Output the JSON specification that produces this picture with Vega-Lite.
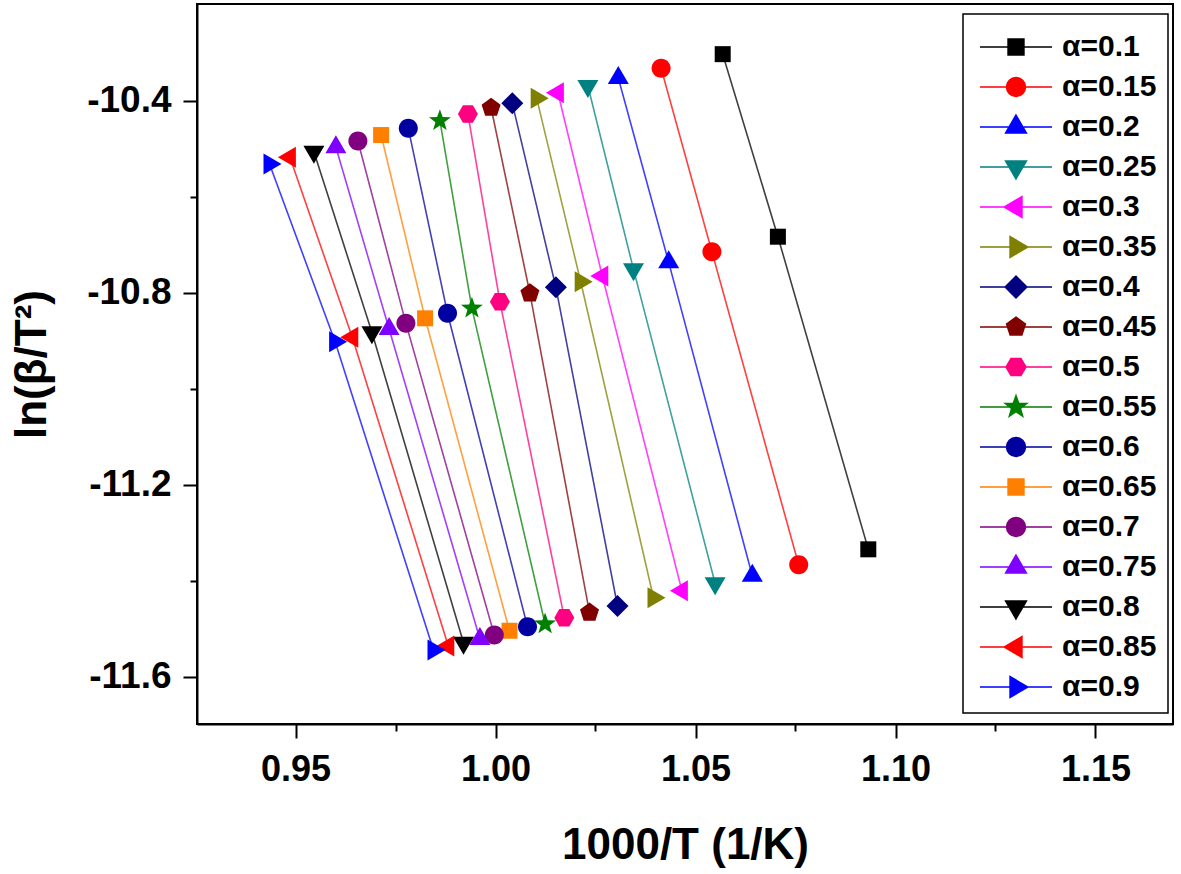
{
  "$schema": "https://vega.github.io/schema/vega-lite/v6.json",
  "width": 976,
  "height": 720,
  "autosize": "none",
  "padding": {"left": 197, "top": 4, "right": 8, "bottom": 150},
  "background": "white",
  "config": {
    "view": {"stroke": "black", "strokeWidth": 2},
    "font": "Liberation Sans"
  },
  "data": {
    "values": [
      {"a": "α=0.1", "x": 1.0568, "y": -10.3030}, {"a": "α=0.1", "x": 1.0706, "y": -10.6833}, {"a": "α=0.1", "x": 1.0932, "y": -11.3346},
      {"a": "α=0.15", "x": 1.0414, "y": -10.3325}, {"a": "α=0.15", "x": 1.0541, "y": -10.7146}, {"a": "α=0.15", "x": 1.0758, "y": -11.3667},
      {"a": "α=0.2", "x": 1.0307, "y": -10.3527}, {"a": "α=0.2", "x": 1.0433, "y": -10.7367}, {"a": "α=0.2", "x": 1.0642, "y": -11.3896},
      {"a": "α=0.25", "x": 1.0231, "y": -10.3694}, {"a": "α=0.25", "x": 1.0345, "y": -10.7513}, {"a": "α=0.25", "x": 1.0549, "y": -11.4054},
      {"a": "α=0.3", "x": 1.0156, "y": -10.3833}, {"a": "α=0.3", "x": 1.0267, "y": -10.7652}, {"a": "α=0.3", "x": 1.0466, "y": -11.4208},
      {"a": "α=0.35", "x": 1.0103, "y": -10.3950}, {"a": "α=0.35", "x": 1.0213, "y": -10.7771}, {"a": "α=0.35", "x": 1.0395, "y": -11.4354},
      {"a": "α=0.4", "x": 1.0042, "y": -10.4054}, {"a": "α=0.4", "x": 1.0151, "y": -10.7888}, {"a": "α=0.4", "x": 1.0305, "y": -11.4527},
      {"a": "α=0.45", "x": 0.9989, "y": -10.4146}, {"a": "α=0.45", "x": 1.0086, "y": -10.8013}, {"a": "α=0.45", "x": 1.0235, "y": -11.4663},
      {"a": "α=0.5", "x": 0.9931, "y": -10.4277}, {"a": "α=0.5", "x": 1.0011, "y": -10.8188}, {"a": "α=0.5", "x": 1.0172, "y": -11.4771},
      {"a": "α=0.55", "x": 0.9861, "y": -10.4417}, {"a": "α=0.55", "x": 0.9941, "y": -10.8325}, {"a": "α=0.55", "x": 1.0124, "y": -11.4902},
      {"a": "α=0.6", "x": 0.9782, "y": -10.4575}, {"a": "α=0.6", "x": 0.9880, "y": -10.8429}, {"a": "α=0.6", "x": 1.0080, "y": -11.4958},
      {"a": "α=0.65", "x": 0.9714, "y": -10.4715}, {"a": "α=0.65", "x": 0.9824, "y": -10.8533}, {"a": "α=0.65", "x": 1.0035, "y": -11.5042},
      {"a": "α=0.7", "x": 0.9656, "y": -10.4840}, {"a": "α=0.7", "x": 0.9776, "y": -10.8638}, {"a": "α=0.7", "x": 0.9997, "y": -11.5131},
      {"a": "α=0.75", "x": 0.9601, "y": -10.4969}, {"a": "α=0.75", "x": 0.9734, "y": -10.8754}, {"a": "α=0.75", "x": 0.9961, "y": -11.5215},
      {"a": "α=0.8", "x": 0.9546, "y": -10.5063}, {"a": "α=0.8", "x": 0.9691, "y": -10.8825}, {"a": "α=0.8", "x": 0.9920, "y": -11.5292},
      {"a": "α=0.85", "x": 0.9486, "y": -10.5179}, {"a": "α=0.85", "x": 0.9642, "y": -10.8929}, {"a": "α=0.85", "x": 0.9882, "y": -11.5360},
      {"a": "α=0.9", "x": 0.9435, "y": -10.5319}, {"a": "α=0.9", "x": 0.9599, "y": -10.9021}, {"a": "α=0.9", "x": 0.9845, "y": -11.5444}
    ]
  },
  "encoding": {
    "x": {
      "field": "x", "type": "quantitative",
      "scale": {"domain": [0.925375, 1.169375], "nice": false, "zero": false},
      "axis": {
        "values": [0.95, 0.975, 1.0, 1.025, 1.05, 1.075, 1.1, 1.125, 1.15],
        "labelExpr": "abs(datum.value*20 - round(datum.value*20)) < 0.001 ? format(datum.value, '.2f') : ''",
        "tickSize": {"condition": {"test": "abs(datum.value*20 - round(datum.value*20)) < 0.001", "value": 14}, "value": 7},
        "tickColor": "black", "tickWidth": 2,
        "domainColor": "black", "domainWidth": 2,
        "grid": false,
        "labelFont": "Liberation Sans", "labelFontSize": 36, "labelFontWeight": "bold", "labelColor": "black",
        "labelPadding": 14, "labelOverlap": false, "labelBound": false, "labelFlush": false,
        "title": "1000/T (1/K)",
        "titleFont": "Liberation Sans", "titleFontSize": 44, "titleFontWeight": "bold", "titleColor": "black",
        "titlePadding": 36
      }
    },
    "y": {
      "field": "y", "type": "quantitative",
      "scale": {"domain": [-11.6985, -10.1985], "nice": false, "zero": false},
      "axis": {
        "values": [-10.4, -10.6, -10.8, -11.0, -11.2, -11.4, -11.6],
        "labelExpr": "abs(datum.value*2.5 - round(datum.value*2.5)) < 0.001 ? '-' + format(-datum.value, '.1f') : ''",
        "tickSize": {"condition": {"test": "abs(datum.value*2.5 - round(datum.value*2.5)) < 0.001", "value": 14}, "value": 7},
        "tickColor": "black", "tickWidth": 2,
        "domainColor": "black", "domainWidth": 2,
        "grid": false,
        "labelFont": "Liberation Sans", "labelFontSize": 37, "labelFontWeight": "bold", "labelColor": "black",
        "labelPadding": 12, "labelOverlap": false, "labelBound": false, "labelFlush": false,
        "title": "ln(β/T²)",
        "titleFont": "Liberation Sans", "titleFontSize": 44, "titleFontWeight": "bold", "titleColor": "black",
        "titlePadding": 32
      }
    }
  },
  "layer": [
    {
      "mark": {"type": "line", "strokeWidth": 1.6, "opacity": 0.75},
      "encoding": {
        "stroke": {
          "field": "a", "type": "nominal", "legend": null,
          "scale": {
            "range": ["#000000","#FF0000","#0000FF","#008080","#FF00FF","#808000","#000080","#800000","#FF0080","#008000","#0000A0","#FF8000","#800080","#8000FF","#000000","#FF0000","#0000FF"]
          }
        }
      }
    },
    {
      "mark": {"type": "point", "filled": true, "size": 400, "opacity": 1},
      "encoding": {
        "color": {
          "field": "a", "type": "nominal",
          "scale": {
            "domain": ["α=0.1","α=0.15","α=0.2","α=0.25","α=0.3","α=0.35","α=0.4","α=0.45","α=0.5","α=0.55","α=0.6","α=0.65","α=0.7","α=0.75","α=0.8","α=0.85","α=0.9"],
            "range": ["#000000","#FF0000","#0000FF","#008080","#FF00FF","#808000","#000080","#800000","#FF0080","#008000","#0000A0","#FF8000","#800080","#8000FF","#000000","#FF0000","#0000FF"]
          },
          "legend": {
            "title": " ", "titleFontSize": 7, "titlePadding": 0,
            "orient": "none", "legendX": 766, "legendY": 10,
            "padding": 11, "strokeColor": "black", "fillColor": "white",
            "symbolSize": 400, "rowPadding": 10, "labelOffset": 31, "symbolOffset": 27,
            "labelFont": "Liberation Sans", "labelFontSize": 30, "labelFontWeight": "bold", "labelColor": "black", "labelLimit": 0,
            "symbolOpacity": 1,
            "encode": {
              "legend": {"update": {"strokeWidth": {"value": 1.5}}},
              "symbols": {"update": {
                "shape": {"signal": "scale('shape', datum.value) + 'M-3.6,0L3.6,0'"},
                "stroke": {"signal": "scale('color', datum.value)"},
                "strokeWidth": {"value": 1.4}
              }}
            }
          }
        },
        "shape": {
          "field": "a", "type": "nominal", "legend": null,
          "scale": {
            "range": [
              "M-0.8,-0.8L0.8,-0.8L0.8,0.8L-0.8,0.8Z",
              "M0.95,0A0.95,0.95,0,1,1,-0.95,0A0.95,0.95,0,1,1,0.95,0Z",
              "M0,-1.2L1.05,0.6L-1.05,0.6Z",
              "M0,1.2L1.05,-0.6L-1.05,-0.6Z",
              "M-1.2,0L0.6,-1.05L0.6,1.05Z",
              "M1.2,0L-0.6,-1.05L-0.6,1.05Z",
              "M0,-1.1L1.1,0L0,1.1L-1.1,0Z",
              "M0,-1L0.951,-0.309L0.588,0.809L-0.588,0.809L-0.951,-0.309Z",
              "M1,0L0.5,0.866L-0.5,0.866L-1,0L-0.5,-0.866L0.5,-0.866Z",
              "M0,-1.15L0.276,-0.38L1.094,-0.355L0.447,0.145L0.676,0.93L0,0.47L-0.676,0.93L-0.447,0.145L-1.094,-0.355L-0.276,-0.38Z",
              "M0.95,0A0.95,0.95,0,1,1,-0.95,0A0.95,0.95,0,1,1,0.95,0Z",
              "M-0.8,-0.8L0.8,-0.8L0.8,0.8L-0.8,0.8Z",
              "M0.95,0A0.95,0.95,0,1,1,-0.95,0A0.95,0.95,0,1,1,0.95,0Z",
              "M0,-1.2L1.05,0.6L-1.05,0.6Z",
              "M0,1.2L1.05,-0.6L-1.05,-0.6Z",
              "M-1.2,0L0.6,-1.05L0.6,1.05Z",
              "M1.2,0L-0.6,-1.05L-0.6,1.05Z"
            ]
          }
        }
      }
    }
  ]
}
